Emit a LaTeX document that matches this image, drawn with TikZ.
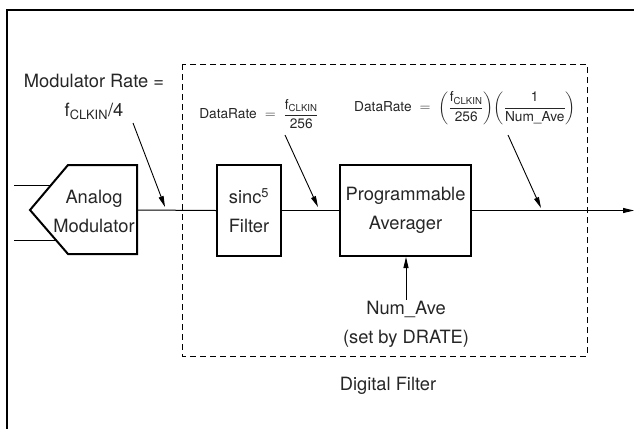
\documentclass[tikz,border=0pt]{standalone}
\usepackage{amssymb}
\usepackage{amsmath}
\usepackage{xcolor}
\usepackage{fontspec}
\setmainfont{TeX Gyre Heros}
\usetikzlibrary{arrows.meta}
\newcommand{\ftxt}[1]{\text{\fontsize{13.7}{16}\selectfont #1}}

\begin{document}
\begin{tikzpicture}[x=1pt, y=-1pt, font=\fontsize{18.3}{29}\selectfont, text=black!85,
      blok/.style={draw=black, line width=2pt, align=center, inner sep=0pt, minimum height=91pt},
      lbl/.style={align=center, inner sep=1pt},
      small/.style={font=\fontsize{13.7}{16}\selectfont},
      wire/.style={line width=1pt},
      arr/.style={-{Triangle[length=11pt,width=5pt]}, line width=0.9pt}]
      \useasboundingbox (0,0) rectangle (634,429);

      % frame and digital filter region
      \draw[line width=2pt] (634,10) -- (7,10) -- (7,429);
      \draw[dash pattern=on 6pt off 4pt, line width=1pt] (182,64) rectangle (587,356);

      % analog modulator
      \coordinate (tip) at (30,210);
      \coordinate (amout) at (137,210);
      \draw[line width=2pt, line join=miter] (tip) -- (68,165) -- (137,165) -- (amout) -- (137,254) -- (68,254) -- cycle;
      \node[lbl, name=amod] at (94,211) {Analog\\Modulator};
      \coordinate (ina) at (14,185);
      \coordinate (inb) at (14,240);
      \coordinate (ina-end) at (51,185);
      \coordinate (inb-end) at (55,240);

      \node[blok, name=sinc, minimum width=64pt] at (249,210.5) {sinc\textsuperscript{5}\\Filter};
      \node[blok, name=prog, minimum width=131pt] at (405.5,210.5) {Programmable\\Averager};
      \coordinate (out) at (634,210.5);

      \path[wire]
         (ina) edge (ina-end)
         (inb) edge (inb-end)
         (amout) edge (sinc.west)
         (sinc.east) edge (prog.west);
      \draw[arr, line width=1pt] (prog.east) -- (out);

      % rates
      \node[lbl, name=modrate] at (94,97) {Modulator Rate =\\f\textsubscript{CLKIN}/4};
      \node[lbl, small, name=rate1] at (259,114)
         {$\ftxt{DataRate} \;=\; \dfrac{\ftxt{f\textsubscript{CLKIN}}}{\ftxt{256}}$};
      \node[lbl, small, name=rate2] at (465,108)
         {$\ftxt{DataRate} \;=\; \left(\dfrac{\ftxt{f\textsubscript{CLKIN}}}{\ftxt{256}}\right)\!\left(\dfrac{\ftxt{1}}{\ftxt{Num\_Ave}}\right)$};

      \coordinate (mr-from) at (133,123);
      \coordinate (mr-to) at (165,207);
      \coordinate (r1-from) at (285,135);
      \coordinate (r1-to) at (318,207);
      \coordinate (r2-from) at (508,135);
      \coordinate (r2-to) at (541,208);
      \draw[arr] (mr-from) -- (mr-to);
      \draw[arr] (r1-from) -- (r1-to);
      \draw[arr] (r2-from) -- (r2-to);

      \node[lbl, name=numave] at (406,324) {Num\_Ave\\(set by DRATE)};
      \draw[arr] (numave.north) -- (numave.north |- prog.south);

      \node[lbl, name=dfilt] at (388,386) {Digital Filter};
   \end{tikzpicture}
\end{document}
